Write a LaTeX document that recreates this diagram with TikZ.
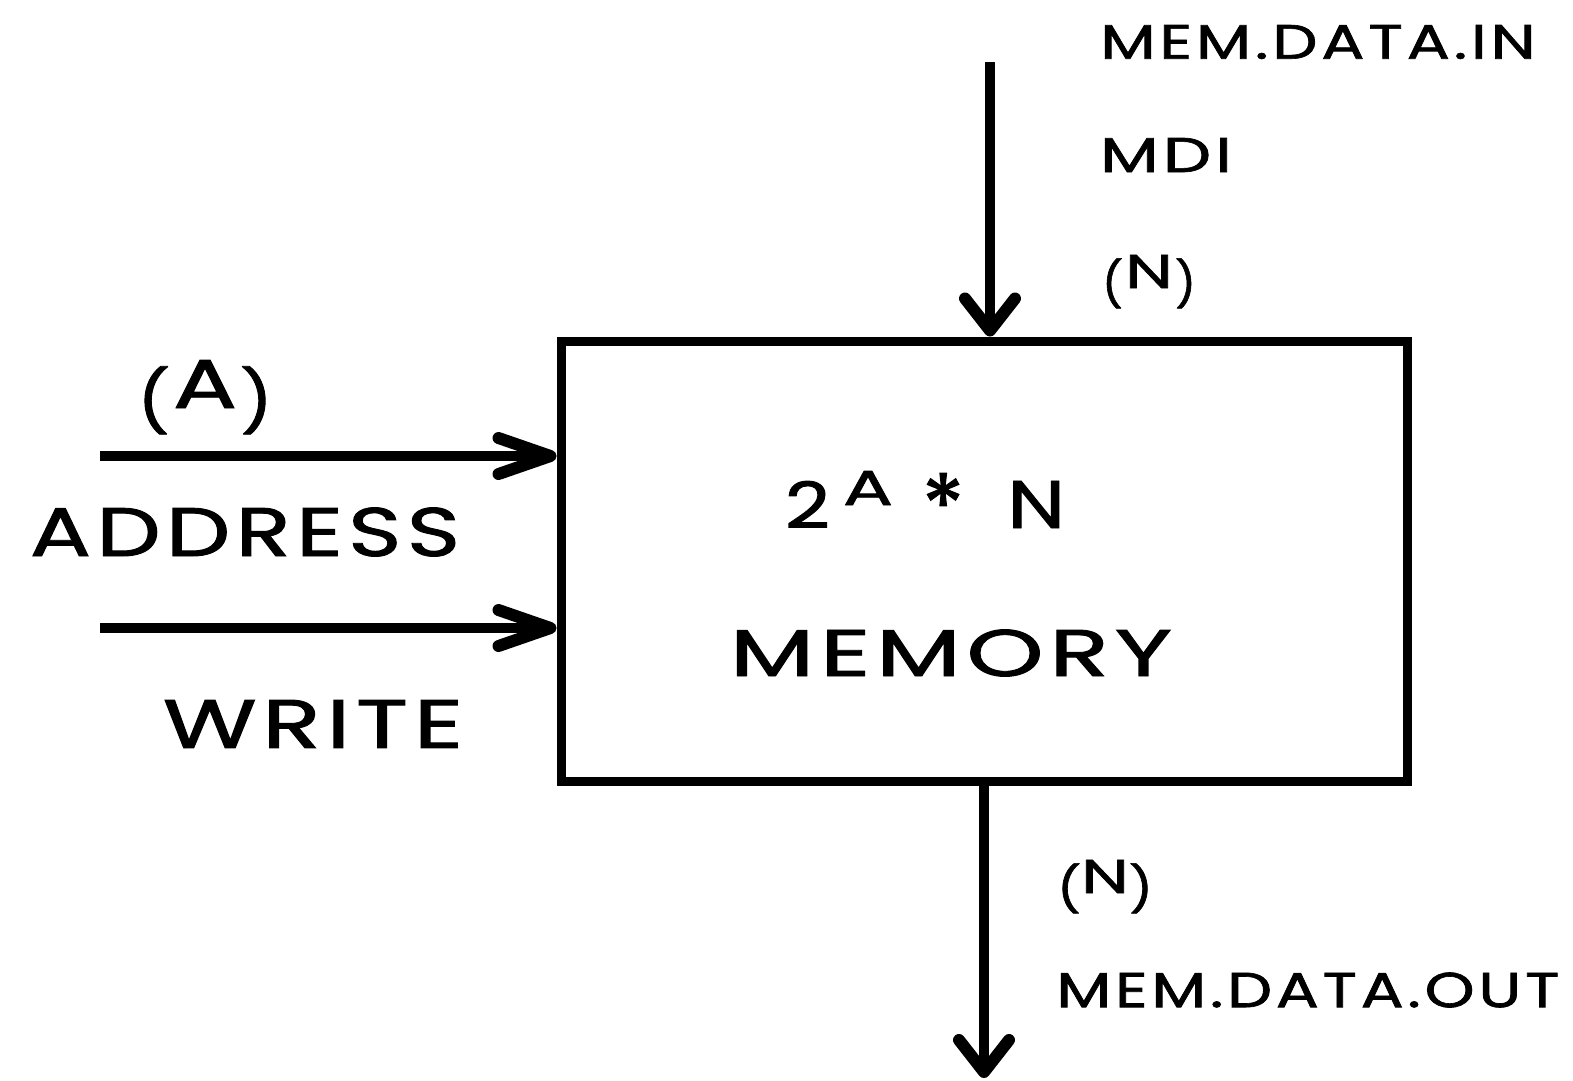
\documentclass[tikz,border=0pt]{standalone}
\usepackage{fontspec}
\usepackage{graphicx}
\newfontfamily\gfont{Poppins}[LetterSpace=6, FakeBold=1.3]
\usetikzlibrary{arrows.meta}
% open chevron tip drawn with heavy round-jointed strokes
\pgfdeclarearrow{
  name = Chevron,
  parameters = {\the\pgfarrowlength,\the\pgfarrowwidth},
  setup code = {
    \pgfarrowssettipend{0pt}
    \pgfarrowssetlineend{-6pt}
    \pgfarrowssetvisualbackend{-\pgfarrowlength}
    \pgfarrowssetbackend{-\pgfarrowlength}
    \pgfarrowshullpoint{0pt}{0pt}
    \pgfarrowsupperhullpoint{-\pgfarrowlength}{.5\pgfarrowwidth}
  },
  drawing code = {
    \pgfarrowlinewidth=12pt
    \pgfsetlinewidth{\pgfarrowlinewidth}
    \pgfsetroundcap
    \pgfsetroundjoin
    \pgfpathmoveto{\pgfpoint{-\pgfarrowlength}{.5\pgfarrowwidth}}
    \pgfpathlineto{\pgfpoint{-6pt}{0pt}}
    \pgfpathlineto{\pgfpoint{-\pgfarrowlength}{-.5\pgfarrowwidth}}
    \pgfusepathqstroke
  },
  defaults = {length = 40pt, width = 48pt}
}
% fit a label into a given ink box (width, total height)
\newcommand{\fitlabel}[3]{\resizebox*{#1}{#2}{\gfont #3}}
% a letter between parentheses: paren width, paren height, paren depth, gap, letter width, letter height, letter
\newcommand{\parlabel}[7]{\raisebox{-#3}{\fitlabel{#1}{#2}{(}}\kern#4\fitlabel{#5}{#6}{#7}\kern#4\raisebox{-#3}{\fitlabel{#1}{#2}{)}}}
\tikzset{
  hwire/.style={line width=9.5pt, -{Chevron[length=58pt,width=36pt]}},
  vwire/.style={line width=10.5pt, -{Chevron[length=38pt,width=50pt]}},
  membox/.style={draw, line width=9pt, minimum width=846pt, minimum height=440pt, inner sep=0pt},
  lbl/.style={inner sep=0pt, outer sep=0pt, anchor=center},
  blbl/.style={inner sep=0pt, outer sep=0pt, anchor=base west}
}
\begin{document}
\begin{tikzpicture}[x=1pt, y=-1pt]
\useasboundingbox (0,0) rectangle (1573,1080);
% memory block
\node[membox] (mem) at (984,561) {};
% block contents
\node[blbl] (size) at (785,528) {\gfont
  \fitlabel{45pt}{47pt}{2}\kern13pt\raisebox{23pt}{\fitlabel{50pt}{34pt}{A}}\kern29pt\raisebox{-9pt}{\scalebox{1.45}{\fontsize{60pt}{60pt}\selectfont *}}\kern43pt\fitlabel{58pt}{47pt}{N}};
\node[lbl] (memtxt) at (951,653) {\fitlabel{442pt}{47pt}{MEMORY}};
% data in
\coordinate (din) at (990,62);
\draw[vwire] (din) -- (din |- mem.north);
\node[lbl] (dinname) at (1318,42) {\fitlabel{435pt}{34pt}{MEM.DATA.IN}};
\node[lbl] (dinabbr) at (1166,155) {\fitlabel{132pt}{34pt}{MDI}};
\node[blbl] (dinw) at (1102,288) {\parlabel{21pt}{50pt}{12pt}{2pt}{48pt}{33pt}{N}};
% data out
\coordinate (dout) at (984,1078);
\draw[vwire] (mem.south -| dout) -- (dout);
\node[blbl] (doutw) at (1057,893) {\parlabel{24pt}{50pt}{12pt}{0pt}{48pt}{33pt}{N}};
\node[lbl] (doutname) at (1308,990) {\fitlabel{503pt}{35pt}{MEM.DATA.OUT}};
% address and write inputs
\coordinate (addr) at (100,456);
\coordinate (wr) at (100,628);
\draw[hwire] (addr) -- (addr -| mem.west);
\draw[hwire] (wr) -- (wr -| mem.west);
\node[blbl] (addrw) at (137,408) {\parlabel{33pt}{68pt}{15pt}{3pt}{64pt}{48pt}{A}};
\node[lbl] (addrname) at (245,532) {\fitlabel{430pt}{49pt}{ADDRESS}};
\node[lbl] (wrname) at (313,724) {\fitlabel{300pt}{48pt}{WRITE}};
\end{tikzpicture}
\end{document}
